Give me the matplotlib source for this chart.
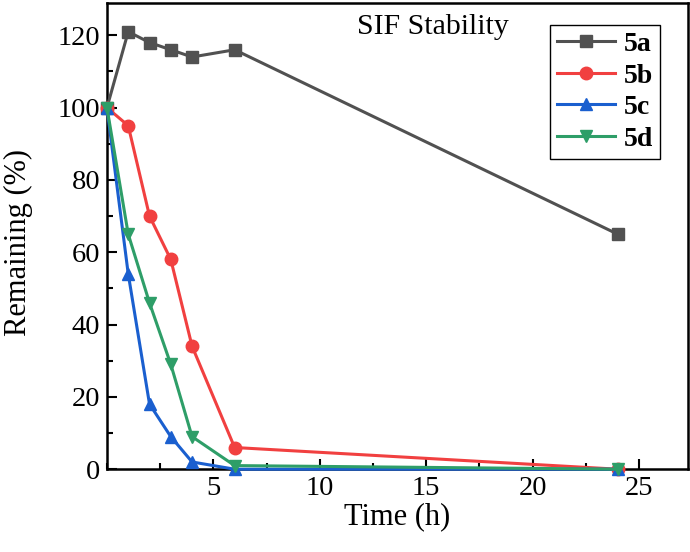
import matplotlib

matplotlib.use("Agg")
import matplotlib.pyplot as plt
from matplotlib.ticker import MultipleLocator

time_h = [0, 1, 2, 3, 4, 6, 24]
remaining_5a = [100, 121, 118, 116, 114, 116, 65]
remaining_5b = [100, 95, 70, 58, 34, 6, 0]
remaining_5c = [100, 54, 18, 9, 2, 0, 0]
remaining_5d = [100, 65, 46, 29, 9, 1, 0]

series = [
    ("5a", remaining_5a, "#515151", "s", 8),
    ("5b", remaining_5b, "#F14040", "o", 9),
    ("5c", remaining_5c, "#1A5FCF", "^", 9),
    ("5d", remaining_5d, "#2E9E68", "v", 9),
]

plt.rcParams["font.family"] = ["Liberation Serif", "DejaVu Serif"]

fig = plt.figure(figsize=(6.9, 5.52), dpi=100)
ax = fig.add_axes([0.155, 0.150, 0.842, 0.845])

for name, vals, color, marker, ms in series:
    ax.plot(time_h, vals, color=color, marker=marker, markersize=ms,
            linewidth=2.2, label=name, clip_on=False, zorder=3)

ax.set_xlim(0, 27.3)
ax.set_ylim(0, 129)
ax.xaxis.set_minor_locator(MultipleLocator(2.5))
ax.yaxis.set_minor_locator(MultipleLocator(10))
ax.set_xticks([5, 10, 15, 20, 25])
ax.set_yticks([0, 20, 40, 60, 80, 100, 120])

ax.tick_params(which="both", direction="in", top=False, right=False,
               labelsize=20.5, width=1.5)
ax.tick_params(which="major", length=7, pad=5)
ax.tick_params(which="minor", length=4)
for sp in ax.spines.values():
    sp.set_linewidth(1.8)

ax.set_xlabel("Time (h)", fontsize=22, labelpad=1)
ax.set_ylabel("Remaining (%)", fontsize=22)
ax.yaxis.set_label_coords(-0.127, 0.485)
ax.text(0.43, 0.975, "SIF Stability", transform=ax.transAxes,
        fontsize=21.5, va="top", ha="left")

leg = ax.legend(loc="upper right", bbox_to_anchor=(0.952, 0.953),
                borderaxespad=0,
                prop={"weight": "bold", "size": 20}, frameon=True,
                fancybox=False, handlelength=2.1, borderpad=0.25,
                labelspacing=0.22, handletextpad=0.3)
leg.get_frame().set_edgecolor("black")
leg.get_frame().set_linewidth(1.0)
leg.get_frame().set_alpha(1)

fig.savefig("out.png", dpi=100)
